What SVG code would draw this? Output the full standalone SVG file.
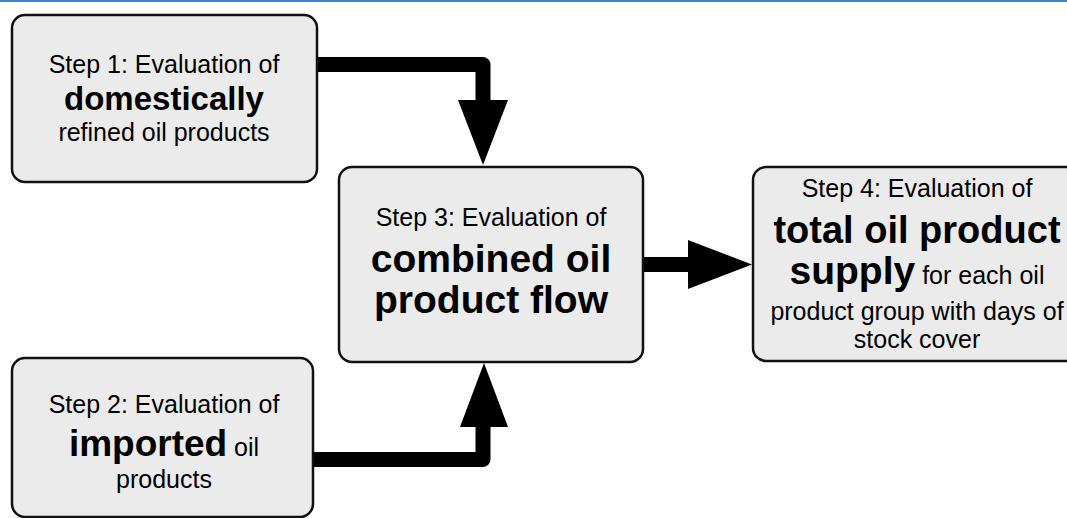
<svg xmlns="http://www.w3.org/2000/svg" width="1067" height="518" viewBox="0 0 1067 518">
  <style>
    .box { fill: #ebebeb; stroke: #111; stroke-width: 2.5; }
    .t { font-family: "Liberation Sans", Arial, Helvetica, sans-serif; fill: #000; text-anchor: middle; font-size: 25px; }
    .b { font-weight: bold; }
    .shaft { fill: none; stroke: #000; stroke-width: 15; stroke-linejoin: round; }
    .head { fill: #000; }
  </style>
  <rect width="1067" height="518" fill="#fff"/>
  <rect x="0" y="0" width="1067" height="2" fill="#4a80c4"/>

  <g id="connectors">
    <path class="shaft" d="M317,64.5 H483 V104"/>
    <polygon class="head" points="458,100 508,100 483,165"/>
    <path class="shaft" d="M313,459.5 H483 V423"/>
    <polygon class="head" points="460,427 508,427 484,363"/>
    <path class="shaft" d="M643,264.5 H692"/>
    <polygon class="head" points="688,240 688,289 752,264.5"/>
  </g>

  <g id="step1">
    <rect class="box" x="12" y="15" width="305" height="167" rx="13"/>
    <text class="t" x="164" y="73">Step 1: Evaluation of</text>
    <text class="t b" x="164" y="110" style="font-size:33px">domestically</text>
    <text class="t" x="164" y="141">refined oil products</text>
  </g>

  <g id="step2">
    <rect class="box" x="12" y="358" width="301" height="159" rx="13"/>
    <text class="t" x="164" y="413">Step 2: Evaluation of</text>
    <text class="t" x="164" y="456"><tspan class="b" style="font-size:37px">imported</tspan> oil</text>
    <text class="t" x="164" y="488">products</text>
  </g>

  <g id="step3">
    <rect class="box" x="339" y="167" width="304" height="195" rx="13"/>
    <text class="t" x="491" y="226">Step 3: Evaluation of</text>
    <text class="t b" x="491" y="272" style="font-size:39px">combined oil</text>
    <text class="t b" x="491" y="313" style="font-size:39px">product flow</text>
  </g>

  <g id="step4">
    <rect class="box" x="753" y="167" width="330" height="194" rx="13"/>
    <text class="t" x="917" y="197">Step 4: Evaluation of</text>
    <text class="t b" x="917" y="243" style="font-size:38px">total oil product</text>
    <text class="t" x="917" y="284"><tspan class="b" style="font-size:39px">supply</tspan> for each oil</text>
    <text class="t" x="917" y="320">product group with days of</text>
    <text class="t" x="917" y="348">stock cover</text>
  </g>
</svg>
